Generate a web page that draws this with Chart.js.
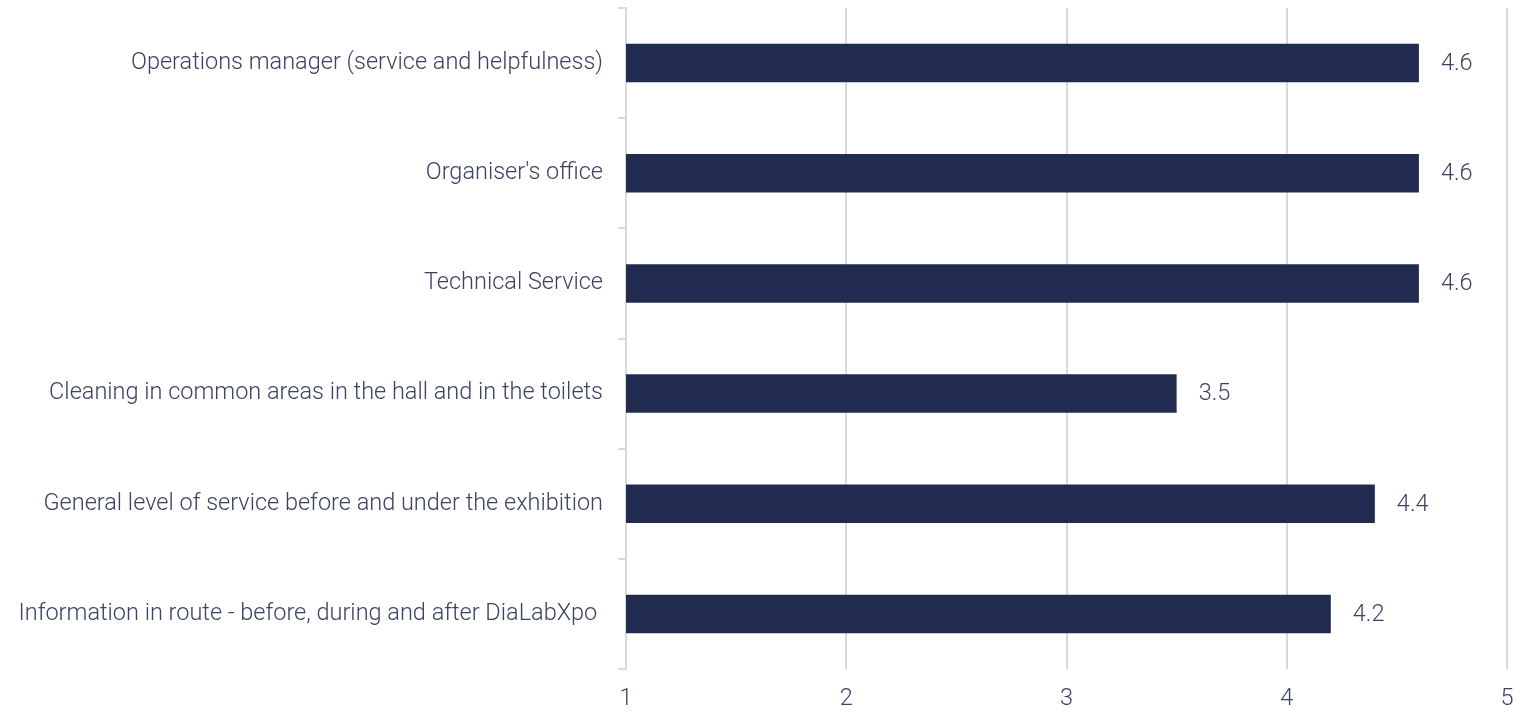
<!DOCTYPE html>
<html>
<head>
<meta charset="utf-8">
<script src="https://cdn.jsdelivr.net/npm/chart.js@4.4.0/dist/chart.umd.min.js"></script>
<style>
  html, body { margin: 0; padding: 0; background: #fff; }
  #wrap { width: 1537px; height: 712px; }
</style>
</head>
<body>
<div id="wrap"><canvas id="chart"></canvas></div>
<script>
// Service ratings, scale 1-5
const categories = [
  'Operations manager (service and helpfulness)',
  "Organiser's office",
  'Technical Service',
  'Cleaning in common areas in the hall and in the toilets',
  'General level of service before and under the exhibition',
  'Information in route - before, during and after DiaLabXpo '
];
const ratings = [4.6, 4.6, 4.6, 3.5, 4.4, 4.2];
const xTicks = [1, 2, 3, 4, 5];

const textColor = '#3c4262';
const barColor = '#212a4f';
const lineColor = '#d9d9d9';
const font = { family: 'Roboto', weight: '300', size: 23.5 };

// Value labels drawn to the right of each bar
const valueLabels = {
  id: 'valueLabels',
  afterDatasetsDraw(chart) {
    const ctx = chart.ctx;
    const meta = chart.getDatasetMeta(0);
    ctx.save();
    ctx.font = `${font.weight} ${font.size}px ${font.family}`;
    ctx.fillStyle = textColor;
    ctx.textAlign = 'left';
    ctx.textBaseline = 'middle';
    meta.data.forEach((bar, i) => {
      ctx.fillText(ratings[i].toFixed(1), bar.x + 22, bar.y + 1);
    });
    ctx.restore();
  }
};

new Chart(document.getElementById('chart'), {
  type: 'bar',
  data: {
    labels: categories,
    datasets: [{
      data: ratings,
      backgroundColor: barColor,
      borderWidth: 0,
      categoryPercentage: 1,
      barPercentage: 0.35
    }]
  },
  options: {
    indexAxis: 'y',
    responsive: true,
    maintainAspectRatio: false,
    animation: false,
    layout: { padding: { top: 8, right: 30, bottom: 0, left: 0 } },
    plugins: {
      legend: { display: false },
      tooltip: { enabled: false }
    },
    scales: {
      x: {
        min: 1,
        max: 5,
        afterBuildTicks(scale) {
          scale.ticks = xTicks.map(v => ({ value: v }));
        },
        afterFit(scale) {
          scale.height = 43;
          scale.paddingLeft = 0;
          scale.paddingRight = 0;
        },
        grid: { color: lineColor, lineWidth: 2, drawTicks: false },
        border: { display: false },
        ticks: { color: textColor, font, padding: 16 }
      },
      y: {
        afterFit(scale) {
          // fixed label column; drop the half-label padding above and below
          scale.width = 626;
          scale.paddingTop = 0;
          scale.paddingBottom = 0;
        },
        grid: {
          drawOnChartArea: false,
          drawTicks: true,
          tickLength: 8,
          color: lineColor,
          lineWidth: 2
        },
        border: { color: lineColor, width: 2 },
        ticks: { color: textColor, font, padding: 15 }
      }
    }
  },
  plugins: [valueLabels]
});
</script>
</body>
</html>
